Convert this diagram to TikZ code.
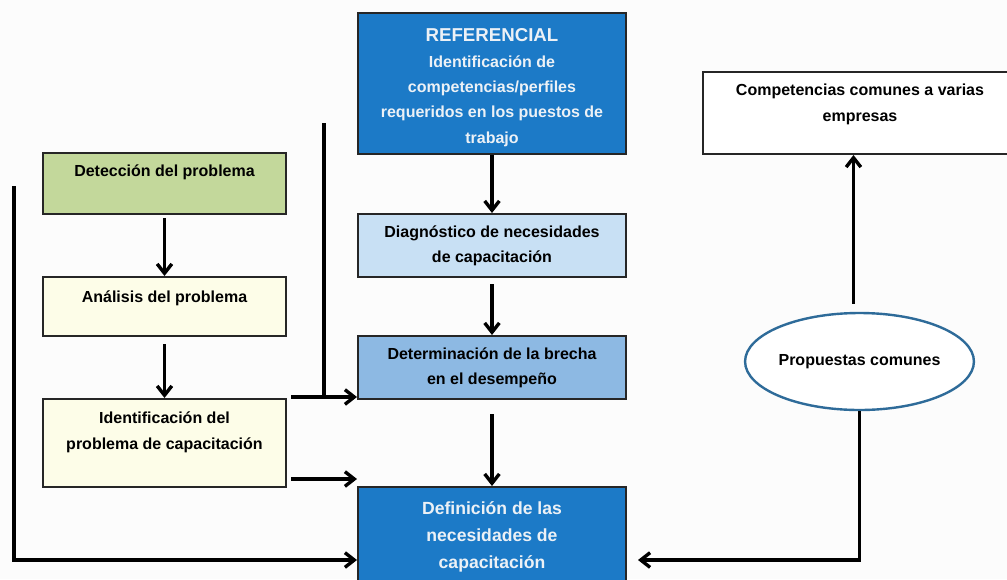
\documentclass[tikz,border=0pt]{standalone}
\usepackage{fontspec}
\setmainfont{Liberation Sans}
\usetikzlibrary{arrows.meta,shapes.geometric}

\newlength{\du}
\setlength{\du}{0.75pt}

\definecolor{fondo}{rgb}{0.988,0.988,0.988}
\definecolor{azuloscuro}{rgb}{0.110,0.478,0.780}
\definecolor{azulmedio}{rgb}{0.553,0.725,0.890}
\definecolor{azulclaro}{rgb}{0.784,0.878,0.957}
\definecolor{verde}{rgb}{0.765,0.847,0.608}
\definecolor{crema}{rgb}{0.992,0.992,0.910}
\definecolor{bordeelipse}{rgb}{0.180,0.420,0.600}
\definecolor{textoclaro}{rgb}{0.925,0.945,0.965}

% texto pegado arriba dentro de la caja
\newcommand{\toplines}[4]{\parbox[c][#2][t]{#1}{\centering\vspace*{#3}\strut #4}}

\tikzset{
  caja/.style={draw=black!85, line width=2\du, inner sep=0pt, align=center,
    font=\bfseries\fontsize{12}{19}\selectfont},
  flecha/.style={line width=3.4\du, -{Straight Barb[length=7pt,width=11pt]}},
  linea/.style={line width=3.4\du},
}

\begin{document}
\begin{tikzpicture}[yscale=-1]
\useasboundingbox (0,0) rectangle (1007\du,579\du);
\fill[fondo] (0,0) rectangle (1007\du,579\du);

% columna central
\node[caja, fill=azuloscuro, text=textoclaro] (ref) at (492\du,83.5\du)
  {\toplines{268\du}{141\du}{11\du}{{\fontsize{14}{19}\selectfont REFERENCIAL}\\Identificación de\\competencias/perfiles\\requeridos en los puestos de\\trabajo}};
\node[caja, fill=azulclaro, minimum width=268\du, minimum height=63\du] (diag) at (492\du,245.5\du)
  {Diagnóstico de necesidades\\de capacitación};
\node[caja, fill=azulmedio, minimum width=268\du, minimum height=63\du] (deter) at (492\du,367.5\du)
  {Determinación de la brecha\\en el desempeño};
\node[caja, fill=azuloscuro, text=textoclaro] (defi) at (492\du,560\du)
  {\toplines{268\du}{146\du}{10\du}{\fontsize{13.2}{20}\selectfont Definición de las\\necesidades de\\capacitación}};

% columna izquierda
\node[caja, fill=verde] (deteccion) at (164.5\du,183.5\du)
  {\toplines{243\du}{61\du}{6\du}{Detección del problema}};
\node[caja, fill=crema] (analisis) at (164.5\du,306.5\du)
  {\toplines{243\du}{59\du}{8\du}{Análisis del problema}};
\node[caja, fill=crema] (ident) at (164.5\du,443\du)
  {\toplines{243\du}{88\du}{7\du}{Identificación del\\problema de capacitación}};

% columna derecha
\node[caja, fill=white] (comp) at (860\du,113\du)
  {\toplines{314\du}{82\du}{6\du}{Competencias comunes a varias\\empresas}};
\node[ellipse, draw=bordeelipse, line width=2.4\du, fill=white, inner sep=0pt,
  minimum width=221\du, minimum height=97\du, font=\bfseries\fontsize{12}{19}\selectfont] (propuestas) at (859.5\du,361.5\du)
  {Propuestas comunes};

\coordinate (filac) at (0,397\du);
\coordinate (filad) at (0,479\du);
\coordinate (inicioc) at (324\du,123\du);
\coordinate (inicioi) at (14\du,186\du);

\draw[flecha] (ref) -- (diag);
\draw[flecha, shorten <=6\du] (diag) -- (deter);
\draw[flecha, shorten <=14\du] (deter) -- (defi);
\draw[flecha, shorten <=3\du] (deteccion) -- (analisis);
\draw[flecha, shorten <=7\du] (analisis) -- (ident);
\draw[flecha, shorten <=4\du] (ident.east |- filac) -- (deter.west |- filac);
\draw[linea] (inicioc) -- (inicioc |- filac);
\draw[flecha, shorten <=4\du] (ident.east |- filad) -- (defi.west |- filad);
\draw[flecha] (inicioi) |- (defi.west);
\draw[flecha, shorten <=8\du] ([xshift=-6\du]propuestas.north) -- ([xshift=-6\du]propuestas.north |- comp.south);
\draw[flecha, shorten >=11\du] (propuestas.south) |- (defi.east);
\end{tikzpicture}
\end{document}
